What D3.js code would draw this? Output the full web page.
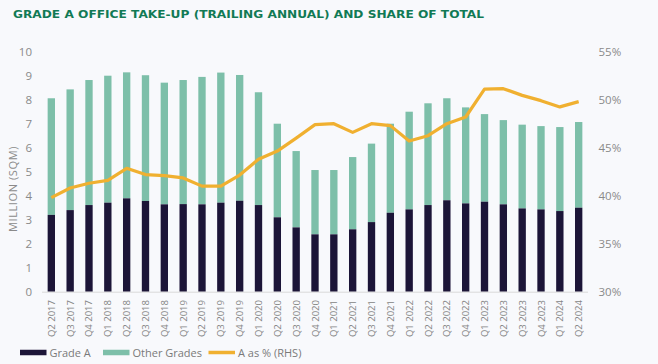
<!DOCTYPE html>
<html>
<head>
<meta charset="utf-8">
<script src="https://cdn.jsdelivr.net/npm/d3@7"></script>
<style>
  body { margin:0; background:#f8f9fc; }
  svg { display:block; font-family:"Open Sans", sans-serif; }
</style>
</head>
<body>
<div id="chart"></div>
<script>
const quarters = ['Q2 2017','Q3 2017','Q4 2017','Q1 2018','Q2 2018','Q3 2018','Q4 2018','Q1 2019','Q2 2019','Q3 2019','Q4 2019','Q1 2020','Q2 2020','Q3 2020','Q4 2020','Q1 2021','Q2 2021','Q3 2021','Q4 2021','Q1 2022','Q2 2022','Q3 2022','Q4 2022','Q1 2023','Q2 2023','Q3 2023','Q4 2023','Q1 2024','Q2 2024']

// million sqm, trailing annual
const gradeA = [3.2,3.4,3.61,3.71,3.89,3.78,3.64,3.65,3.64,3.71,3.79,3.61,3.1,2.68,2.39,2.39,2.6,2.9,3.29,3.43,3.61,3.81,3.68,3.75,3.64,3.47,3.43,3.36,3.5]
const total = [8.06,8.43,8.82,9.0,9.14,9.02,8.71,8.82,8.95,9.13,9.03,8.31,7.0,5.86,5.07,5.07,5.61,6.17,7.0,7.5,7.85,8.06,7.68,7.4,7.15,6.96,6.9,6.86,7.07]
// share of grade A, %
const share = [39.8,40.8,41.3,41.6,42.85,42.2,42.1,41.85,41.0,41.0,42.15,43.8,44.65,46.0,47.4,47.5,46.6,47.5,47.3,45.7,46.25,47.5,48.2,51.1,51.15,50.45,49.9,49.25,49.8]

const leftTicks = [0,1,2,3,4,5,6,7,8,9,10]
const rightTicks = [30,35,40,45,50,55]

const colors = {gradeA:'#1c1538', other:'#7dbfa9', line:'#f0b030'}

const W = 658, H = 364
const svg = d3.select('#chart').append('svg').attr('width',W).attr('height',H)
svg.append('rect').attr('width',W).attr('height',H).attr('fill','#f8f9fc')

const x = d3.scaleBand().domain(quarters).range([42,588]).paddingInner(0.61).paddingOuter(0.3)
const yL = d3.scaleLinear().domain([0,10]).range([291.7,51.7])
const yR = d3.scaleLinear().domain([30,55]).range([291.7,51.7])

// title
svg.append('text')
  .attr('x',13).attr('y',17.5)
  .attr('fill','#117a55')
  .attr('font-family','"DejaVu Sans", sans-serif')
  .attr('font-weight','bold').attr('font-size',11)
  .attr('textLength',471).attr('lengthAdjust','spacingAndGlyphs')
  .text('GRADE A OFFICE TAKE-UP (TRAILING ANNUAL) AND SHARE OF TOTAL')

// bars: other grades (full stack) then grade A on top
const bars = svg.append('g')
bars.selectAll('rect.other').data(quarters).enter().append('rect')
  .attr('class','other')
  .attr('x',d=>x(d)).attr('width',x.bandwidth())
  .attr('y',(d,i)=>yL(total[i])).attr('height',(d,i)=>yL(gradeA[i])-yL(total[i]))
  .attr('fill',colors.other)
bars.selectAll('rect.ga').data(quarters).enter().append('rect')
  .attr('class','ga')
  .attr('x',d=>x(d)).attr('width',x.bandwidth())
  .attr('y',(d,i)=>yL(gradeA[i])).attr('height',(d,i)=>yL(0)-yL(gradeA[i]))
  .attr('fill',colors.gradeA)

// baseline
svg.append('line').attr('x1',42).attr('x2',588).attr('y1',yL(0)+0.5).attr('y2',yL(0)+0.5)
  .attr('stroke','#d9d9d9').attr('stroke-width',1)

// share line
const line = d3.line().x((d,i)=>x(quarters[i])+x.bandwidth()/2).y(d=>yR(d))
svg.append('path').datum(share).attr('d',line)
  .attr('fill','none').attr('stroke',colors.line).attr('stroke-width',3.2)
  .attr('stroke-linejoin','round')

// left axis labels
svg.append('g').selectAll('text').data(leftTicks).enter().append('text')
  .attr('x',32).attr('y',d=>yL(d)+4)
  .attr('text-anchor','end').attr('font-size',11.5).attr('fill','#8a8a8a')
  .text(d=>d)

// right axis labels
svg.append('g').selectAll('text').data(rightTicks).enter().append('text')
  .attr('x',598.5).attr('y',d=>yR(d)+4)
  .attr('font-size',11.5).attr('fill','#8a8a8a')
  .text(d=>d+'%')

// axis title
svg.append('text')
  .attr('transform','translate(17,189) rotate(-90)')
  .attr('text-anchor','middle').attr('font-size',11).attr('fill','#8a8a8a')
  .attr('letter-spacing',0.6)
  .text('MILLION (SQM)')

// x labels
svg.append('g').selectAll('text').data(quarters).enter().append('text')
  .attr('transform',d=>`translate(${x(d)+x.bandwidth()/2+3.5},300) rotate(-90)`)
  .attr('text-anchor','end').attr('font-size',9.5).attr('fill','#858585')
  .text(d=>d)

// legend
const legend = [
  {label:'Grade A', color:colors.gradeA, x:20, h:5.5},
  {label:'Other Grades', color:colors.other, x:103, h:5.5},
  {label:'A as % (RHS)', color:colors.line, x:208.5, h:3.5}
]
const lg = svg.append('g').selectAll('g').data(legend).enter().append('g')
  .attr('transform',d=>`translate(${d.x},352.5)`)
lg.append('rect').attr('x',0).attr('y',d=>-d.h/2).attr('width',26.5).attr('height',d=>d.h)
  .attr('fill',d=>d.color)
lg.append('text').attr('x',29.5).attr('y',4).attr('font-size',11).attr('fill','#7a7a7a')
  .text(d=>d.label)
</script>
</body>
</html>
